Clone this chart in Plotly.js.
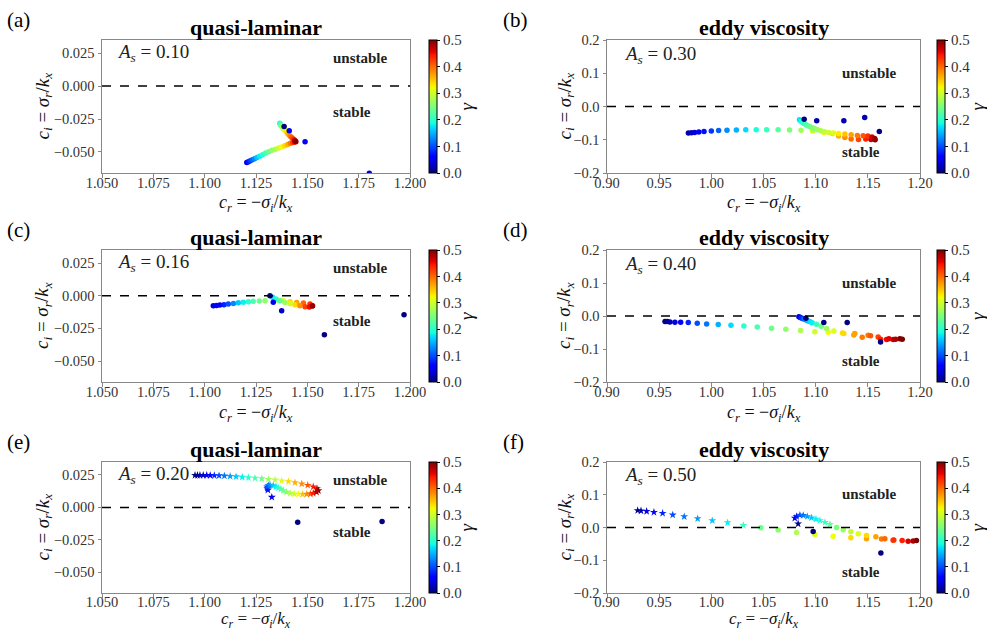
<!DOCTYPE html>
<html><head><meta charset="utf-8">
<script src="https://cdn.plot.ly/plotly-3.0.1.min.js"></script>
<style>html,body{margin:0;padding:0;background:#fff}#plot{width:987px;height:632px}</style>
</head><body><div id="plot"></div>
<script>
// ---------------- DATA ----------------
// (a) quasi-laminar, As = 0.10
const aX1 = [1.1205,1.1213,1.1222,1.1232,1.1243,1.1255,1.1268,1.1282,1.1297,1.1312,1.1328,1.1344,1.1360,1.1375,1.1390,1.1404,1.1417,1.1429,1.1438,1.1444];
const aY1 = [-0.0580,-0.0574,-0.0567,-0.0560,-0.0551,-0.0542,-0.0532,-0.0521,-0.0509,-0.0498,-0.0488,-0.0479,-0.0470,-0.0462,-0.0453,-0.0444,-0.0435,-0.0428,-0.0424,-0.0422];
const aG1 = [0.05,0.07,0.09,0.11,0.13,0.16,0.18,0.20,0.22,0.24,0.26,0.28,0.30,0.32,0.34,0.36,0.39,0.42,0.45,0.48];
const aX2 = [1.1366,1.1368,1.1371,1.1375,1.1380,1.1385,1.1391,1.1397,1.1404,1.1411,1.1418,1.1425,1.1432,1.1438,1.1442];
const aY2 = [-0.0283,-0.0290,-0.0298,-0.0307,-0.0317,-0.0327,-0.0338,-0.0349,-0.0360,-0.0371,-0.0382,-0.0393,-0.0403,-0.0412,-0.0418];
const aG2 = [0.19,0.21,0.23,0.25,0.27,0.29,0.31,0.33,0.35,0.37,0.39,0.41,0.43,0.46,0.50];
const aXo = [1.1387,1.1412,1.1489,1.1802];
const aYo = [-0.0306,-0.0339,-0.0423,-0.0662];
const aGo = [0.00,0.05,0.05,0.03];

// (b) eddy viscosity, As = 0.30
const bX1 = [0.978,0.981,0.984,0.988,0.993,1.000,1.007,1.015,1.024,1.033,1.043,1.053,1.064,1.075,1.086,1.097,1.108,1.116,1.122,1.128,1.134,1.141,1.148,1.153,1.157];
const bY1 = [-0.080,-0.079,-0.078,-0.0765,-0.075,-0.0735,-0.0725,-0.0715,-0.071,-0.070,-0.070,-0.070,-0.070,-0.0705,-0.0715,-0.0735,-0.078,-0.081,-0.089,-0.093,-0.098,-0.099,-0.098,-0.099,-0.100];
const bG1 = [0.02,0.03,0.04,0.05,0.07,0.09,0.11,0.13,0.15,0.17,0.19,0.21,0.23,0.25,0.27,0.30,0.32,0.34,0.36,0.38,0.40,0.42,0.44,0.47,0.50];
const bX2 = [1.0845,1.0855,1.0865,1.0878,1.0892,1.0908,1.0925,1.0945,1.0968,1.0992,1.1020,1.1050,1.1085,1.1125,1.1170,1.1220,1.1280,1.1340,1.1400,1.1455,1.1500,1.1540,1.1565];
const bY2 = [-0.040,-0.043,-0.046,-0.049,-0.052,-0.055,-0.058,-0.061,-0.064,-0.067,-0.070,-0.073,-0.076,-0.078,-0.080,-0.081,-0.083,-0.085,-0.087,-0.088,-0.089,-0.092,-0.096];
const bG2 = [0.17,0.18,0.19,0.20,0.21,0.22,0.23,0.24,0.25,0.26,0.27,0.28,0.29,0.30,0.31,0.33,0.35,0.37,0.39,0.41,0.43,0.46,0.49];
const bXo = [1.089,1.101,1.127,1.147,1.161];
const bYo = [-0.038,-0.043,-0.043,-0.033,-0.0755];
const bGo = [0.00,0.02,0.02,0.02,0.00];

// (c) quasi-laminar, As = 0.16
const cX1 = [1.1042,1.1058,1.1074,1.1094,1.1115,1.1140,1.1164,1.1188,1.1213,1.1237,1.1266,1.1294,1.1351,1.1383,1.1416,1.1448,1.1481,1.1513,1.1525];
const cY1 = [-0.0076,-0.0074,-0.0071,-0.0069,-0.0064,-0.0059,-0.0054,-0.0049,-0.0046,-0.0043,-0.0041,-0.0038,-0.0033,-0.0038,-0.0046,-0.0051,-0.0056,-0.0064,-0.0076];
const cG1 = [0.04,0.05,0.06,0.08,0.10,0.13,0.16,0.18,0.20,0.22,0.24,0.26,0.29,0.31,0.34,0.37,0.40,0.43,0.47];
const cX2 = [1.1331,1.1347,1.1367,1.1391,1.1416,1.1440,1.1464,1.1489,1.1510,1.1525];
const cY2 = [-0.0012,-0.0025,-0.0038,-0.0051,-0.0061,-0.0069,-0.0076,-0.0084,-0.0087,-0.0079];
const cG2 = [0.17,0.20,0.23,0.27,0.30,0.34,0.38,0.42,0.45,0.49];
const cXo = [1.1318,1.1334,1.1375,1.1583,1.1971];
const cYo = [0.0000,-0.0050,-0.0115,-0.0298,-0.0145];
const cGo = [0.00,0.05,0.03,0.00,0.00];

// (d) eddy viscosity, As = 0.40
const dX1 = [0.9556,0.9578,0.9603,0.9651,0.9706,0.9779,0.9865,0.9955,1.0066,1.0188,1.0312,1.0440,1.0577,1.0714,1.0855,1.0992,1.1120,1.1257,1.1375,1.1503,1.1599,1.1679,1.1743,1.1807];
const dY1 = [-0.0170,-0.0170,-0.0180,-0.0190,-0.0190,-0.0200,-0.0220,-0.0240,-0.0260,-0.0280,-0.0300,-0.0330,-0.0370,-0.0400,-0.0440,-0.0480,-0.0495,-0.0515,-0.0534,-0.0584,-0.0634,-0.0714,-0.0714,-0.0690];
const dG1 = [0.00,0.01,0.02,0.04,0.06,0.08,0.10,0.12,0.15,0.17,0.20,0.22,0.24,0.26,0.28,0.30,0.32,0.34,0.37,0.39,0.42,0.45,0.47,0.50];
const dX2 = [1.0839,1.0852,1.0864,1.0880,1.0896,1.0912,1.0928,1.0946,1.0966,1.1008,1.1053,1.1104,1.1174,1.1270,1.1366,1.1446,1.1526,1.1622,1.1702,1.1766,1.1830];
const dY2 = [-0.0022,-0.0042,-0.0062,-0.0082,-0.0102,-0.0127,-0.0152,-0.0177,-0.0202,-0.0252,-0.0312,-0.0382,-0.0452,-0.0532,-0.0572,-0.0642,-0.0602,-0.0702,-0.0692,-0.0702,-0.0702];
const dG2 = [0.03,0.06,0.08,0.10,0.12,0.14,0.15,0.17,0.18,0.21,0.24,0.27,0.31,0.34,0.37,0.39,0.41,0.44,0.46,0.48,0.50];
const dXo = [1.0906,1.1078,1.1302,1.1622];
const dYo = [-0.007,-0.020,-0.020,-0.079];
const dGo = [0.00,0.00,0.00,0.00];

// (e) quasi-laminar, As = 0.20
const eX1 = [1.0953,1.0965,1.0977,1.0993,1.1010,1.1027,1.1047,1.1070,1.1096,1.1124,1.1153,1.1183,1.1213,1.1245,1.1278,1.1310,1.1343,1.1375,1.1408,1.1440,1.1473,1.1502,1.1529,1.1547,1.1554];
const eY1 = [0.0248,0.0248,0.0248,0.0248,0.0248,0.0247,0.0246,0.0245,0.0243,0.0240,0.0237,0.0234,0.0230,0.0226,0.0222,0.0217,0.0212,0.0206,0.0200,0.0191,0.0182,0.0171,0.0159,0.0145,0.0130];
const eG1 = [0.00,0.01,0.02,0.03,0.05,0.06,0.08,0.10,0.12,0.14,0.16,0.18,0.20,0.22,0.24,0.27,0.29,0.31,0.34,0.36,0.38,0.41,0.44,0.47,0.50];
const eX2 = [1.1308,1.1305,1.1305,1.1310,1.1318,1.1334,1.1347,1.1359,1.1371,1.1383,1.1399,1.1416,1.1436,1.1456,1.1477,1.1497,1.1515,1.1529,1.1545];
const eY2 = [0.0134,0.0146,0.0158,0.0168,0.0172,0.0168,0.0159,0.0150,0.0141,0.0130,0.0118,0.0110,0.0104,0.0102,0.0101,0.0102,0.0105,0.0109,0.0118];
const eG2 = [0.05,0.07,0.09,0.11,0.13,0.16,0.18,0.20,0.22,0.24,0.26,0.28,0.30,0.32,0.35,0.38,0.41,0.44,0.48];
const eXo = [1.1327,1.1453,1.1864];
const eYo = [0.0079,-0.0114,-0.0108];
const eGo = [0.05,0.00,0.00];

// (f) eddy viscosity, As = 0.50
const fX1 = [0.9294,0.9326,0.9380,0.9450,0.9533,0.9630,0.9740,0.9869,1.0009,1.0156,1.0306,1.0475,1.0641,1.0817,1.0992,1.1168,1.1337,1.1487,1.1631,1.1742,1.1829,1.1886,1.1934,1.1966];
const fY1 = [0.052,0.051,0.0495,0.0466,0.0435,0.0384,0.0333,0.0272,0.0211,0.0150,0.0068,-0.0005,-0.0075,-0.0156,-0.0217,-0.0268,-0.031,-0.034,-0.035,-0.039,-0.040,-0.042,-0.041,-0.040];
const fG1 = [0.01,0.02,0.04,0.06,0.08,0.10,0.12,0.14,0.16,0.18,0.21,0.24,0.26,0.28,0.31,0.32,0.34,0.37,0.39,0.42,0.44,0.46,0.48,0.50];
const fX2 = [1.0800,1.0817,1.0849,1.0881,1.0920,1.0961,1.1003,1.1041,1.1089,1.1137,1.1201,1.1264,1.1337,1.1408,1.1487,1.1577,1.1663,1.1749];
const fY2 = [0.0287,0.0338,0.0379,0.0369,0.0338,0.0297,0.0256,0.0216,0.0155,0.0094,-0.0003,-0.0068,-0.013,-0.0191,-0.0242,-0.0283,-0.0344,-0.0385];
const fG2 = [0.05,0.07,0.10,0.12,0.14,0.16,0.18,0.19,0.21,0.23,0.25,0.27,0.29,0.31,0.34,0.37,0.40,0.43];
const fXo = [1.0832,1.0976,1.1625];
const fYo = [0.0113,-0.0122,-0.078];
const fGo = [0.00,0.00,0.00];

const modelTitles = ["quasi-laminar","eddy viscosity"];
const panelLabels = ["(a)","(b)","(c)","(d)","(e)","(f)"];
const asLabels = ["0.10","0.30","0.16","0.40","0.20","0.50"];
const leftXTicks = [1.05,1.075,1.1,1.125,1.15,1.175,1.2];
const leftYTicks = [-0.05,-0.025,0,0.025];
const rightXTicks = [0.9,0.95,1.0,1.05,1.1,1.15,1.2];
const rightYTicks = [-0.2,-0.1,0,0.1,0.2];
const gammaTicks = [0,0.1,0.2,0.3,0.4,0.5];

// ---------------- LAYOUT ----------------
const W = 987, H = 632;
const FONT = "Liberation Serif, DejaVu Serif, serif";
const jet = [[0,'rgb(0,0,128)'],[0.11,'rgb(0,0,255)'],[0.125,'rgb(0,0,255)'],[0.34,'rgb(0,219,255)'],[0.35,'rgb(0,230,247)'],[0.375,'rgb(21,255,226)'],[0.64,'rgb(239,255,8)'],[0.65,'rgb(247,245,0)'],[0.66,'rgb(255,236,0)'],[0.89,'rgb(255,19,0)'],[0.91,'rgb(232,0,0)'],[1,'rgb(128,0,0)']];

const colPx = [[102,410],[607,920]];
const rowPx = [[40,173],[250,382],[462,593]];
const cbPx = [428.5,937];
const gammaPx = [466,977];
const yTitlePx = [43,565];
const labelPx = [6,502];
const xTitleY = [204,413,null];
const xLabelShift = [-7,-7,-8];

const panels = [
  [[aX1,aY1,aG1],[aX2,aY2,aG2],[aXo,aYo,aGo]],
  [[bX1,bY1,bG1],[bX2,bY2,bG2],[bXo,bYo,bGo]],
  [[cX1,cY1,cG1],[cX2,cY2,cG2],[cXo,cYo,cGo]],
  [[dX1,dY1,dG1],[dX2,dY2,dG2],[dXo,dYo,dGo]],
  [[eX1,eY1,eG1],[eX2,eY2,eG2],[eXo,eYo,eGo]],
  [[fX1,fY1,fG1],[fX2,fY2,fG2],[fXo,fYo,fGo]]
];

const data = [];
const layout = {
  width: W, height: H, margin:{l:0,r:0,t:0,b:0},
  paper_bgcolor:'#fff', plot_bgcolor:'#fff', showlegend:false,
  font:{family:FONT, size:14, color:'#222'},
  annotations:[], shapes:[]
};
const px = v => v / W, py = v => 1 - v / H;
const XT = '<i>c<sub>r</sub></i> = −<i>σ<sub>i</sub></i>/<i>k<sub>x</sub></i>';
const YT = '<i>c<sub>i</sub></i> = <i>σ<sub>r</sub></i>/<i>k<sub>x</sub></i>';

panels.forEach((series, i) => {
  const n = i + 1, sfx = n === 1 ? '' : String(n);
  const col = i % 2, row = Math.floor(i / 2);
  series.forEach(([xs, ys, gs]) => {
    data.push({
      type:'scatter', mode:'markers', x:xs, y:ys,
      xaxis:'x'+sfx, yaxis:'y'+sfx, hoverinfo:'skip',
      marker:{color:gs, coloraxis:'coloraxis'+sfx, opacity:1,
        symbol: ys.map(v => v > 0 ? 'star' : 'circle'),
        size: ys.map(v => v > 0 ? 6 : 5.5), line:{width:0}}
    });
  });
  const left = col === 0;
  const axBase = {showgrid:false, zeroline:false, showline:true, mirror:true,
    linecolor:'#888', linewidth:1, ticks:'outside', ticklen:3.5, tickcolor:'#888',
    tickfont:{family:FONT, size:14.5, color:'#333'}};
  layout['xaxis'+sfx] = Object.assign({}, axBase, {
    domain:[px(colPx[col][0]), px(colPx[col][1])], anchor:'y'+sfx,
    range: left ? [1.05,1.2] : [0.9,1.2],
    tickvals: left ? leftXTicks : rightXTicks,
    tickformat: left ? '.3f' : '.2f', ticklabelstandoff:xLabelShift[row]
  });
  layout['yaxis'+sfx] = Object.assign({}, axBase, {
    domain:[py(rowPx[row][1]), py(rowPx[row][0])], anchor:'x'+sfx,
    range: left ? [-0.066,0.035] : [-0.2,0.2],
    tickvals: left ? leftYTicks : rightYTicks,
    tickformat: left ? '.3f' : '.1f'
  });
  const h = rowPx[row][1] - rowPx[row][0];
  layout['coloraxis'+sfx] = {
    colorscale: jet, cmin:0, cmax:0.5,
    colorbar:{x:px(cbPx[col]), xanchor:'left', y:py(rowPx[row][0]), yanchor:'top',
      len:h/H, lenmode:'fraction', thickness:8, thicknessmode:'pixels', xpad:0, ypad:0,
      outlinewidth:1, outlinecolor:'#000', tickvals:gammaTicks, tickformat:'.1f',
      ticks:'outside', ticklen:3, tickcolor:'#000',
      tickfont:{family:FONT,size:15,color:'#333'}}
  };
  // zero line
  layout.shapes.push({type:'line', xref:'x'+sfx+' domain', yref:'y'+sfx, x0:0, x1:1, y0:0, y1:0,
    line:{color:'#000', width:1.5, dash:'dash'}});
  const ann = (o) => layout.annotations.push(Object.assign({showarrow:false, xanchor:'center', yanchor:'middle', borderpad:0}, o));
  // panel title
  ann({text:'<b>'+modelTitles[col]+'</b>', xref:'paper', yref:'paper',
    x:px((colPx[col][0]+colPx[col][1])/2), y:py(rowPx[row][0]-13),
    font:{family:FONT,size:22,color:'#000'}});
  // panel label
  ann({text:panelLabels[i], xref:'paper', yref:'paper',
    x:px(labelPx[col]), y:py(20 + [0,210,422][row]), xanchor:'left',
    font:{family:FONT,size:21,color:'#000'}});
  // axis titles
  if (xTitleY[row] === null) {
    ann({text:XT, xref:'paper', yref:'paper',
      x:px((colPx[col][0]+colPx[col][1])/2), y:0, yanchor:'bottom',
      font:{family:FONT,size:17,color:'#111'}});
  } else {
    ann({text:XT, xref:'paper', yref:'paper',
      x:px((colPx[col][0]+colPx[col][1])/2), y:py(xTitleY[row]),
      font:{family:FONT,size:18,color:'#111'}});
  }
  ann({text:YT, xref:'paper', yref:'paper', textangle:-90,
    x:px(yTitlePx[col]), y:py((rowPx[row][0]+rowPx[row][1])/2),
    font:{family:FONT,size:19,color:'#111'}});
  // colorbar title
  ann({text:'<i>γ</i>', xref:'paper', yref:'paper', textangle:-90,
    x:px(gammaPx[col]), y:py((rowPx[row][0]+rowPx[row][1])/2),
    font:{family:FONT,size:19,color:'#111'}});
  // As label
  ann({text:'<i>A<sub>s</sub></i> = '+asLabels[i], xref:'x'+sfx, yref:'y'+sfx,
    x: left ? 1.057 : 0.915, y: left ? 0.0248 : 0.156, xanchor:'left',
    font:{family:FONT,size:19,color:'#222'}});
  ann({text:'<b>unstable</b>', xref:'x'+sfx, yref:'y'+sfx,
    x: left ? 1.176 : 1.152, y: left ? 0.021 : 0.101,
    font:{family:FONT,size:15,color:'#222'}});
  ann({text:'<b>stable</b>', xref:'x'+sfx, yref:'y'+sfx,
    x: left ? 1.1716 : 1.143, y: left ? -0.0193 : -0.136,
    font:{family:FONT,size:15,color:'#222'}});
});

Plotly.newPlot('plot', data, layout, {displayModeBar:false, staticPlot:true});
</script></body></html>
